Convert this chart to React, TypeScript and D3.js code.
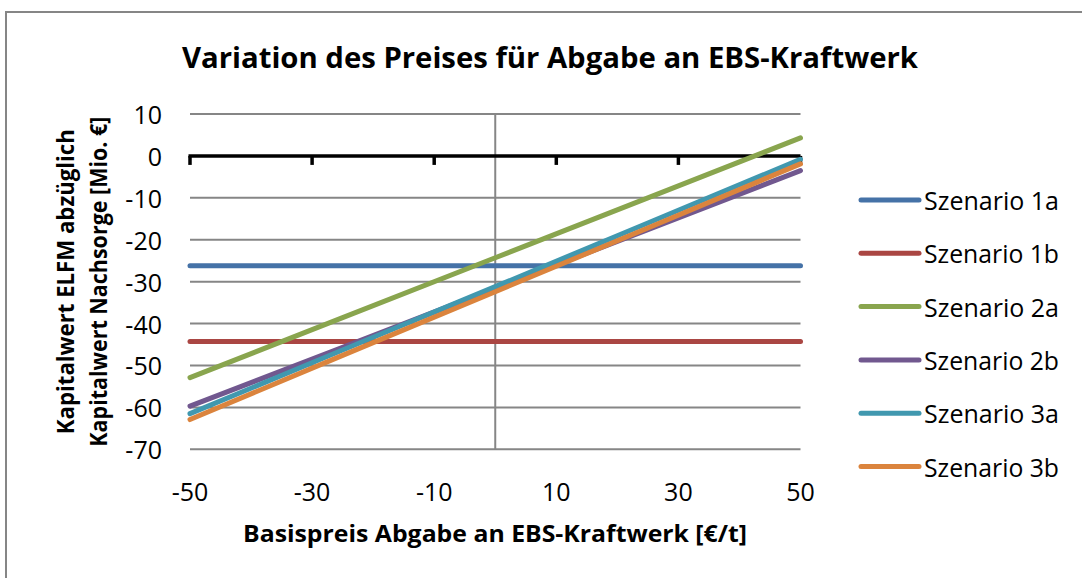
import React from "react";
import * as d3 from "d3";

const xValues = [-50, -25, 0, 25, 50];
const seriesNames = ["Szenario 1a", "Szenario 1b", "Szenario 2a", "Szenario 2b", "Szenario 3a", "Szenario 3b"];
const s1a = [-26.2, -26.2, -26.2, -26.2, -26.2];
const s1b = [-44.3, -44.3, -44.3, -44.3, -44.3];
const s2a = [-52.9, -38.6, -24.3, -10.0, 4.3];
const s2b = [-59.7, -45.7, -31.6, -17.6, -3.5];
const s3a = [-61.5, -46.3, -31.2, -16.0, -0.8];
const s3b = [-62.9, -47.6, -32.4, -17.2, -1.9];
const seriesValues = [s1a, s1b, s2a, s2b, s3a, s3b];
const colors = ["#4572A7", "#AA4643", "#89A54E", "#71588F", "#4198AF", "#DB843D"];
const yTicks = [10, 0, -10, -20, -30, -40, -50, -60, -70];
const xTicks = [-50, -30, -10, 10, 30, 50];

const title = "Variation des Preises für Abgabe an EBS-Kraftwerk";
const xTitle = "Basispreis Abgabe an EBS-Kraftwerk [€/t]";
const yTitle1 = "Kapitalwert ELFM abzüglich";
const yTitle2 = "Kapitalwert Nachsorge [Mio. €]";

const FONT = "'Open Sans', sans-serif";

export default function App() {
  const x = d3.scaleLinear().domain([-50, 50]).range([190, 800.5]);
  const y = d3.scaleLinear().domain([-70, 10]).range([449.3, 114]);
  const line = d3
    .line<number>()
    .x((_, i) => x(xValues[i]))
    .y((d) => y(d));
  const yMid = (y(10) + y(-70)) / 2;

  return (
    <svg
      width={1082}
      height={578}
      style={{ position: "absolute", left: 0, top: 0, background: "#fff" }}
      fontFamily={FONT}
    >
      <rect x={0} y={0} width={1082} height={578} fill="#fff" />
      <rect x={6} y={12} width={1090} height={600} fill="#fff" stroke="#868686" strokeWidth={2} />
      <text x={550} y={57} textAnchor="middle" dominantBaseline="central" fontWeight="bold" fontSize={28} textLength={736} lengthAdjust="spacingAndGlyphs" fill="#000">
        {title}
      </text>

      {yTicks.filter((t) => t !== 0).map((t) => (
        <line key={"g" + t} x1={x(-50)} x2={x(50)} y1={y(t)} y2={y(t)} stroke="#868686" strokeWidth={2} />
      ))}
      <line x1={x(0)} x2={x(0)} y1={y(10)} y2={y(-70)} stroke="#868686" strokeWidth={2} />
      <line x1={x(-50) - 1.5} x2={x(50)} y1={y(0)} y2={y(0)} stroke="#000" strokeWidth={3.5} />
      {xTicks.map((t) => (
        <line key={"t" + t} x1={x(t)} x2={x(t)} y1={y(0)} y2={y(0) + 9} stroke="#000" strokeWidth={3.5} />
      ))}

      {yTicks.map((t) => (
        <text key={"yl" + t} x={162} y={y(t)} textAnchor="end" dominantBaseline="central" fontSize={25} fill="#000">
          {t}
        </text>
      ))}
      {xTicks.map((t) => (
        <text key={"xl" + t} x={x(t)} y={491} textAnchor="middle" dominantBaseline="central" fontSize={25} fill="#000">
          {t}
        </text>
      ))}

      {seriesValues.map((vals, i) => (
        <path key={"s" + i} d={line(vals) || ""} fill="none" stroke={colors[i]} strokeWidth={5} strokeLinecap="round" />
      ))}

      <text x={495} y={533} textAnchor="middle" dominantBaseline="central" fontWeight="bold" fontSize={23} textLength={504} lengthAdjust="spacingAndGlyphs" fill="#000">
        {xTitle}
      </text>
      <text transform={`translate(65,${yMid}) rotate(-90)`} textAnchor="middle" dominantBaseline="central" fontWeight="bold" fontSize={23} textLength={305} lengthAdjust="spacingAndGlyphs" fill="#000">
        {yTitle1}
      </text>
      <text transform={`translate(98,${yMid}) rotate(-90)`} textAnchor="middle" dominantBaseline="central" fontWeight="bold" fontSize={23} textLength={330} lengthAdjust="spacingAndGlyphs" fill="#000">
        {yTitle2}
      </text>

      {seriesNames.map((name, i) => {
        const ly = 200 + i * 53.3;
        return (
          <g key={"lg" + i}>
            <line x1={861} x2={919} y1={ly} y2={ly} stroke={colors[i]} strokeWidth={5} strokeLinecap="round" />
            <text x={924} y={ly} dominantBaseline="central" fontSize={25} textLength={135} lengthAdjust="spacingAndGlyphs" fill="#000">
              {name}
            </text>
          </g>
        );
      })}
    </svg>
  );
}
